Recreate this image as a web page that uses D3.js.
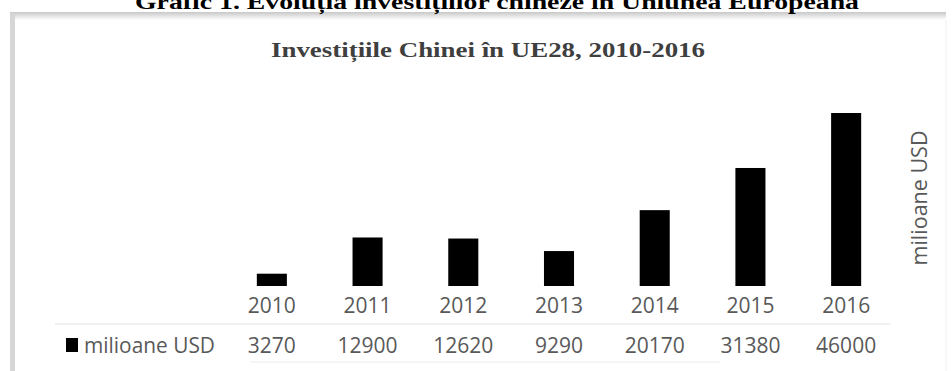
<!DOCTYPE html>
<html>
<head>
<meta charset="utf-8">
<script src="https://cdn.jsdelivr.net/npm/d3@7"></script>
<style>
  body { margin: 0; background: #fff; }
  svg { display: block; }
</style>
</head>
<body>
<div id="graphicContainer"></div>
<script>

const years = ["2010", "2011", "2012", "2013", "2014", "2015", "2016"]
const values = [3270, 12900, 12620, 9290, 20170, 31380, 46000]
const seriesName = "milioane USD"
const pageTitle = "Grafic 1. Evoluția investițiilor chineze în Uniunea Europeană"
const chartTitle = "Investițiile Chinei în UE28, 2010-2016"

const width = 952
const height = 371

const svg = d3.select("#graphicContainer").append("svg")
  .attr("width", width)
  .attr("height", height)

// frame of the scanned chart box
const defs = svg.append("defs")

const topShade = defs.append("linearGradient")
  .attr("id", "topShade")
  .attr("x1", 0).attr("y1", 0).attr("x2", 0).attr("y2", 1)
topShade.append("stop").attr("offset", "0%").attr("stop-color", "#c8c8c8")
topShade.append("stop").attr("offset", "100%").attr("stop-color", "#fff")

svg.append("rect")
  .attr("x", 10).attr("y", 12)
  .attr("width", 936).attr("height", 8)
  .attr("fill", "url(#topShade)")

svg.append("rect")
  .attr("x", 10).attr("y", 14)
  .attr("width", 5).attr("height", height - 14)
  .attr("fill", "#d6d6d6")

svg.append("line")
  .attr("x1", 946).attr("x2", 946)
  .attr("y1", 20).attr("y2", height)
  .attr("stroke", "#f0f0f0")

// page caption, cut at the top of the scan
svg.append("text")
  .attr("x", 497)
  .attr("y", 9)
  .attr("text-anchor", "middle")
  .attr("font-family", "Liberation Serif, Times New Roman, serif")
  .attr("font-weight", "bold")
  .attr("font-size", 22)
  .attr("textLength", 724)
  .attr("lengthAdjust", "spacingAndGlyphs")
  .attr("fill", "#000")
  .text(pageTitle)

svg.append("text")
  .attr("x", 488)
  .attr("y", 57)
  .attr("text-anchor", "middle")
  .attr("font-family", "Liberation Serif, Times New Roman, serif")
  .attr("font-weight", "bold")
  .attr("font-size", 21)
  .attr("textLength", 434)
  .attr("lengthAdjust", "spacingAndGlyphs")
  .attr("fill", "#3f3f3f")
  .text(chartTitle)

const x = d3.scaleBand()
  .domain(years)
  .range([224, 894])
  .paddingInner(0.686)
  .paddingOuter(0.343)

const xCol = d3.scaleBand()
  .domain(years)
  .range([224, 894])

const y = d3.scaleLinear()
  .domain([0, 46000])
  .range([286, 113])

svg.append("g")
  .selectAll("rect")
  .data(years)
  .enter()
  .append("rect")
  .attr("x", (d) => x(d))
  .attr("width", x.bandwidth())
  .attr("y", (d, i) => y(values[i]))
  .attr("height", (d, i) => y(0) - y(values[i]))
  .attr("fill", "#000")

const font = "Open Sans, Calibri, sans-serif"
const textColor = "#595959"

// data table
const table = svg.append("g")

table.append("line")
  .attr("x1", 55).attr("x2", 890)
  .attr("y1", 324).attr("y2", 324)
  .attr("stroke", "#e2e2e2")

table.append("line")
  .attr("x1", 250).attr("x2", 720)
  .attr("y1", 362).attr("y2", 362)
  .attr("stroke", "#ececec")

table.selectAll(".yearLabel")
  .data(years)
  .enter()
  .append("text")
  .attr("class", "yearLabel")
  .attr("x", (d) => xCol(d) + xCol.bandwidth() / 2)
  .attr("y", 313)
  .attr("text-anchor", "middle")
  .attr("font-family", font)
  .attr("font-size", 21)
  .attr("fill", textColor)
  .text((d) => d)

table.selectAll(".valueLabel")
  .data(years)
  .enter()
  .append("text")
  .attr("class", "valueLabel")
  .attr("x", (d) => xCol(d) + xCol.bandwidth() / 2)
  .attr("y", 353)
  .attr("text-anchor", "middle")
  .attr("font-family", font)
  .attr("font-size", 21)
  .attr("fill", textColor)
  .text((d, i) => values[i])

table.append("rect")
  .attr("x", 66).attr("y", 338)
  .attr("width", 12).attr("height", 14)
  .attr("fill", "#000")

table.append("text")
  .attr("x", 84)
  .attr("y", 353)
  .attr("font-family", font)
  .attr("font-size", 21)
  .attr("textLength", 131)
  .attr("lengthAdjust", "spacingAndGlyphs")
  .attr("fill", textColor)
  .text(seriesName)

// axis title on the right
svg.append("text")
  .attr("transform", "translate(927, 198) rotate(-90)")
  .attr("text-anchor", "middle")
  .attr("font-family", font)
  .attr("font-size", 21)
  .attr("textLength", 135)
  .attr("lengthAdjust", "spacingAndGlyphs")
  .attr("fill", textColor)
  .text(seriesName)

</script>
</body>
</html>
